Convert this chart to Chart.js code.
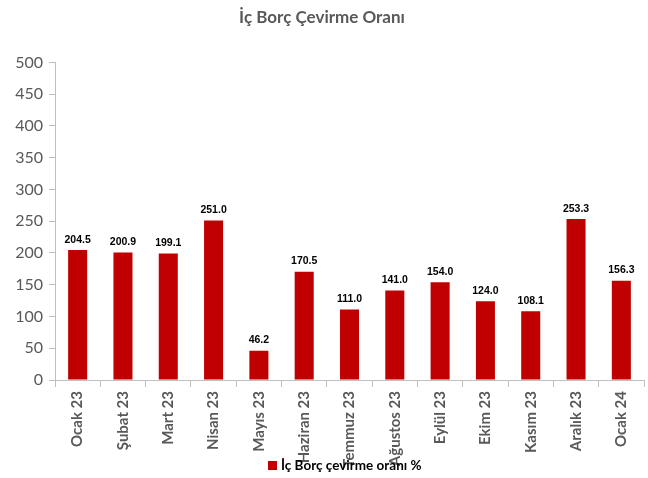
<!DOCTYPE html>
<html>
<head>
<meta charset="utf-8">
<script src="https://cdn.jsdelivr.net/npm/chart.js@4"></script>
<style>
  html, body { margin: 0; padding: 0; background: #fff; }
  #wrap { width: 648px; height: 478px; }
</style>
</head>
<body>
<div id="wrap"><canvas id="chart" width="648" height="478"></canvas></div>
<script>
// Data
const months = ['Ocak 23', 'Şubat 23', 'Mart 23', 'Nisan 23', 'Mayıs 23', 'Haziran 23', 'Temmuz 23',
    'Ağustos 23', 'Eylül 23', 'Ekim 23', 'Kasım 23', 'Aralık 23', 'Ocak 24'];
const rolloverRate = [204.5, 200.9, 199.1, 251.0, 46.2, 170.5, 111.0, 141.0, 154.0, 124.0, 108.1, 253.3, 156.3];
const yTicks = [0, 50, 100, 150, 200, 250, 300, 350, 400, 450, 500];
const seriesName = 'İç Borç çevirme oranı %';
const chartTitle = 'İç Borç Çevirme Oranı';

const RED = '#C00000';
const AXIS = '#BFBFBF';
const GREY = '#595959';

// value labels above each bar
const barLabels = {
    id: 'barLabels',
    afterDatasetsDraw(chart) {
        const ctx = chart.ctx;
        const meta = chart.getDatasetMeta(0);
        ctx.save();
        ctx.font = 'bold 10.5px "Liberation Sans", Arial, sans-serif';
        ctx.fillStyle = '#000';
        ctx.textAlign = 'center';
        ctx.textBaseline = 'bottom';
        meta.data.forEach((bar, i) => {
            ctx.fillText(rolloverRate[i].toFixed(1), bar.x, bar.y - 5);
        });
        ctx.restore();
    }
};

// legend drawn over the bottom of the x labels, like the original
const bottomLegend = {
    id: 'bottomLegend',
    afterDraw(chart) {
        const ctx = chart.ctx;
        ctx.save();
        ctx.font = 'bold 13.5px Lato, "Open Sans", sans-serif';
        ctx.fillStyle = RED;
        ctx.fillRect(268, 461, 9, 9);
        ctx.fillStyle = '#000';
        ctx.textBaseline = 'middle';
        ctx.textAlign = 'left';
        ctx.fillText(chart.data.datasets[0].label, 281, 466);
        ctx.restore();
    }
};

new Chart(document.getElementById('chart').getContext('2d'), {
    type: 'bar',
    data: {
        labels: months,
        datasets: [{
            label: seriesName,
            data: rolloverRate,
            backgroundColor: RED,
            barPercentage: 0.42,
            categoryPercentage: 1.0
        }]
    },
    options: {
        responsive: false,
        animation: false,
        layout: { padding: { top: 7, right: 4, left: 0, bottom: 0 } },
        plugins: {
            legend: { display: false },
            tooltip: { enabled: false },
            title: {
                display: true,
                text: chartTitle,
                color: GREY,
                font: { family: 'Lato, "Open Sans", sans-serif', size: 17, weight: 'bold' },
                padding: { top: 0, bottom: 35 }
            }
        },
        scales: {
            x: {
                offset: true,
                grid: {
                    offset: true,
                    drawOnChartArea: false,
                    color: AXIS,
                    tickLength: 7
                },
                border: { color: AXIS },
                ticks: {
                    color: GREY,
                    font: { family: 'Lato, "Open Sans", sans-serif', size: 15, weight: 'bold' },
                    minRotation: 90,
                    maxRotation: 90,
                    autoSkip: false,
                    padding: 4
                },
                afterFit(scale) { scale.height = 98; }
            },
            y: {
                min: 0,
                max: 500,
                afterBuildTicks(scale) { scale.ticks = yTicks.map(v => ({ value: v })); },
                grid: {
                    drawOnChartArea: false,
                    color: AXIS,
                    tickLength: 6
                },
                border: { color: AXIS },
                ticks: {
                    color: GREY,
                    font: { family: 'Lato, "Open Sans", sans-serif', size: 16 },
                    padding: 6
                },
                afterFit(scale) { scale.width = 55; }
            }
        }
    },
    plugins: [barLabels, bottomLegend]
});
</script>
</body>
</html>
